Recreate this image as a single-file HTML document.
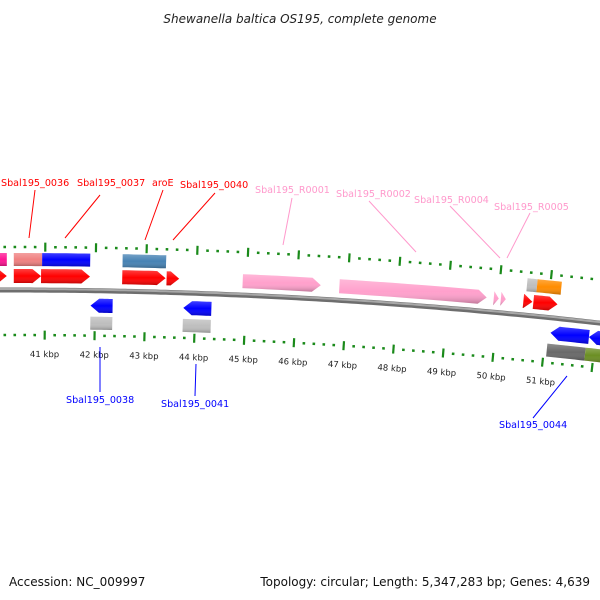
<!DOCTYPE html>
<html><head><meta charset="utf-8"><style>
body{margin:0;background:#fff;}
svg{display:block;font-family:"DejaVu Sans","Liberation Sans",sans-serif;}
</style></head><body>
<svg id="map" width="600" height="600" viewBox="0 0 600 600" xmlns="http://www.w3.org/2000/svg">
<defs>
<linearGradient id="shade" x1="0" y1="0" x2="0" y2="1">
<stop offset="0" stop-color="#fff" stop-opacity="0.25"/>
<stop offset="0.5" stop-color="#fff" stop-opacity="0"/>
<stop offset="1" stop-color="#000" stop-opacity="0.25"/>
</linearGradient>
</defs>
<text x="300" y="23" text-anchor="middle" font-size="12" font-style="italic" fill="#222">Shewanella baltica OS195, complete genome</text>
<text x="9" y="586" font-size="12" fill="#111">Accession: NC_009997</text>
<text x="590" y="586" text-anchor="end" font-size="12" fill="#111">Topology: circular; Length: 5,347,283 bp; Genes: 4,639</text>
<g id="layer"></g>
</svg>
<script>
// feature data (kbp)
const featStart=[40.0,40.0,40.38,40.38,40.94,40.92,42.53,42.53,43.41,41.91,41.91,43.76,43.76,44.92,46.84,49.91,50.05,50.54,50.74,50.5,50.7,51.1,51.87,51.06,51.83];
const featEnd  =[40.24,40.24,40.94,40.92,41.89,41.89,43.39,43.39,43.66,42.35,42.35,44.32,44.32,46.47,49.77,50.01,50.15,50.74,51.22,50.68,51.18,51.87,52.3,51.83,52.3];
const featStrand=[1,1,1,1,1,1,1,1,1,-1,-1,-1,-1,1,1,1,1,1,1,1,1,-1,-1,-1,-1];
const featRow=[2,1,2,1,2,1,2,1,1,1,2,1,2,1,1,1,1,2,2,1,1,1,1,2,2];
const featArrow=[0,1,0,1,0,1,0,1,1,1,0,1,0,1,1,1,1,0,0,1,1,1,1,0,0];
const featColor=["#ff1493","#ff0000","#f08080","#ff0000","#0000ff","#ff0000","#4682b4","#ff0000","#ff0000","#0000ff","#bebebe","#0000ff","#bebebe","#ffa0cc","#ffa0cc","#ffa0cc","#ffa0cc","#bebebe","#ff8c00","#ff0000","#ff0000","#0000ff","#0000ff","#696969","#6b8e23"];
// tick data
const tickLabels=[41,42,43,44,45,46,47,48,49,50,51];
const tickMin=39.6, tickMax=52.4;
// labels
const labelText=["Sbal195_0036","Sbal195_0037","aroE","Sbal195_0040","Sbal195_R0001","Sbal195_R0002","Sbal195_R0004","Sbal195_R0005","Sbal195_0038","Sbal195_0041","Sbal195_0044"];
const labelColor=["#ff0000","#ff0000","#ff0000","#ff0000","#ff99cc","#ff99cc","#ff99cc","#ff99cc","#0000ff","#0000ff","#0000ff"];
const labelKbp=[40.3,40.4,42.95,43.45,45.7,48.45,49.95,50.1,42.08,44.0,51.5];

const NS="http://www.w3.org/2000/svg";
const layer=document.getElementById('layer');
const CX=9, CY=5584, R0=5294;
function ang(k){return (45+(k-41)*50.3-CX)/R0;}
function pt(k,off){const a=ang(k),r=R0+off;return [CX+r*Math.sin(a),CY-r*Math.cos(a)];}
function el(tag,attrs){const e=document.createElementNS(NS,tag);for(const k in attrs)e.setAttribute(k,attrs[k]);layer.appendChild(e);return e;}

// backbone
(function(){
  let d1="",d2="";
  for(let k=39.5;k<=52.6;k+=0.1){const p=pt(k,0);d1+=(d1?"L":"M")+p[0].toFixed(1)+","+p[1].toFixed(1);}
  const b=el('path',{d:d1,stroke:"#6e6e6e",'stroke-width':5,fill:"none"});
  
  
  const h=el('path',{d:d1,stroke:"#a8a8a8",'stroke-width':2,fill:"none",transform:"translate(0,-1)"});
  
  
})();

// ticks
function drawTicks(off,name){
  for(let i=0;Math.round(tickMin*5)+i<=Math.round(tickMax*5);i++){
    const k=(Math.round(tickMin*5)+i)/5;
    const major=Math.abs(k-Math.round(k))<1e-6;
    const len=major?9:2.5;
    const p1=pt(k,off-len/2),p2=pt(k,off+len/2);
    const t=el('line',{x1:p1[0],y1:p1[1],x2:p2[0],y2:p2[1],stroke:"#1a8a1a",'stroke-width':major?2.2:2.6});
    
    
  }
}
drawTicks(43,'outer-tick');
drawTicks(-45,'inner-tick');
tickLabels.forEach(k=>{
  const p=pt(k,-64);
  const t=el('text',{x:p[0],y:p[1]+3,'text-anchor':'middle','font-size':8.5,fill:"#222",transform:`rotate(${(ang(k)*180/Math.PI).toFixed(2)},${p[0]},${p[1]})`});
  t.textContent=k+" kbp";
  
  
});

// features
const rowOff={"1":[7,21],"2":[24,37],"-1":[-8,-22],"-2":[-26,-39]};
featStart.forEach((s,i)=>{
  const e=featEnd[i],st=featStrand[i],key=String(st*featRow[i]);
  const [a,b]=rowOff[key];
  const head=featArrow[i]?Math.min(0.17,(e-s)):0;
  const mid=(a+b)/2;
  const pts=[];
  if(st>0){
    const bodyEnd=e-head;
    for(let k=s;k<=bodyEnd+1e-9;k+=Math.max((bodyEnd-s)/8,0.01))pts.push(pt(k,b));
    pts.push(pt(bodyEnd,b));
    if(head){pts.push(pt(e,mid));}
    for(let k=bodyEnd;k>=s-1e-9;k-=Math.max((bodyEnd-s)/8,0.01))pts.push(pt(k,a));
    pts.push(pt(s,a));
  }else{
    const bodyStart=s+head;
    if(head)pts.push(pt(s,mid));
    for(let k=bodyStart;k<=e+1e-9;k+=Math.max((e-bodyStart)/8,0.01))pts.push(pt(k,a));
    pts.push(pt(e,a));
    for(let k=e;k>=bodyStart-1e-9;k-=Math.max((e-bodyStart)/8,0.01))pts.push(pt(k,b));
    pts.push(pt(bodyStart,b));
  }
  const d=pts.map(p=>p[0].toFixed(1)+","+p[1].toFixed(1)).join(" ");
  const f=el('polygon',{points:d,fill:featColor[i]});
  
  
  const g=el('polygon',{points:d,fill:"url(#shade)"});
  
  
});

// labels
const labelPos=[[1,186],[77,186],[152,186],[180,188],[255,193],[336,197],[414,203],[494,210],[66,403],[161,407],[499,428]];
const lineFrom=[[35,190],[100,195],[163,190],[215,193],[292,198],[369,201],[450,206],[530,213],[100,347],[196,364],[567,376]];
const lineTo=[[29,238],[65,238],[145,240],[173,240],[283,245],[416,252],[500,258],[507,258],[100,392],[195,396],[533,418]];
labelText.forEach((txt,i)=>{
  const l=el('line',{x1:lineFrom[i][0],y1:lineFrom[i][1],x2:lineTo[i][0],y2:lineTo[i][1],stroke:labelColor[i],'stroke-width':1});
  
  
  const t=el('text',{x:labelPos[i][0],y:labelPos[i][1],'font-size':9.6,fill:labelColor[i]});
  t.textContent=txt;
  
  
});
</script>
</body></html>
